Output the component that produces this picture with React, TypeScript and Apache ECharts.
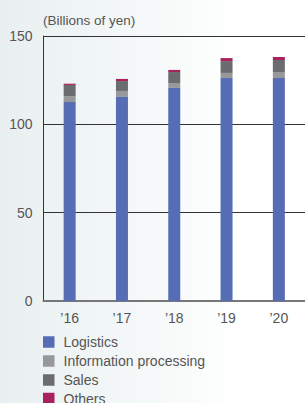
import React, { useEffect, useRef } from "react";
import * as echarts from "echarts";

const categories = ["\u201916", "\u201917", "\u201918", "\u201919", "\u201920"];
const logistics = [112.6, 115.5, 120.6, 126.2, 126.2];
const infoProcessing = [3.4, 3.4, 2.8, 2.9, 3.4];
const sales = [6.3, 5.6, 6.2, 6.7, 6.8];
const others = [0.7, 1.2, 1.2, 1.7, 1.7];
const seriesNames = ["Logistics", "Information processing", "Sales", "Others"];
const yTicks = { min: 0, max: 150, interval: 50 };

const FONT = "Liberation Sans, Arial, sans-serif";

export default function App() {
  const ref = useRef<HTMLDivElement>(null);
  useEffect(() => {
    document.body.style.margin = "0";
    const chart = echarts.init(ref.current!, undefined, { renderer: "svg" });
    const mk = (name: string, data: number[], color: string) => ({
      name,
      type: "bar",
      stack: "total",
      data,
      barWidth: 12,
      itemStyle: { color },
    });
    const legendTops = [335, 354, 373, 391.5];
    chart.setOption({
      animation: false,
      textStyle: { fontFamily: FONT },
      graphic: [
        {
          type: "text",
          left: 43,
          top: 13,
          style: { text: "(Billions of yen)", fontSize: 13.5, fill: "#555", fontFamily: FONT },
        },
      ],
      legend: seriesNames.map((n, i) => ({
        orient: "vertical",
        left: 43,
        top: legendTops[i],
        padding: 0,
        itemWidth: 11.5,
        itemHeight: 11.5,
        icon: "rect",
        textStyle: { fontSize: 14, color: "#555", fontFamily: FONT, padding: [0, 0, 0, 4] },
        data: [n],
      })),
      grid: { left: 43.5, top: 36, bottom: 102, width: 265, containLabel: false },
      xAxis: {
        type: "category",
        data: categories,
        axisLine: { lineStyle: { color: "#777", width: 2 } },
        axisTick: { show: false },
        axisLabel: { color: "#555", fontSize: 14, margin: 10, fontFamily: FONT },
      },
      yAxis: {
        type: "value",
        min: yTicks.min,
        max: yTicks.max,
        interval: yTicks.interval,
        axisLine: { show: true, lineStyle: { color: "#333", width: 1 } },
        axisTick: { show: false },
        splitLine: { lineStyle: { color: "#333", width: 1 } },
        axisLabel: { color: "#555", fontSize: 14, margin: 11, fontFamily: FONT },
      },
      series: [
        mk(seriesNames[0], logistics, "#566cb4"),
        mk(seriesNames[1], infoProcessing, "#97989a"),
        mk(seriesNames[2], sales, "#6b6c6f"),
        mk(seriesNames[3], others, "#a8235e"),
      ],
    });
    return () => chart.dispose();
  }, []);
  return (
    <div
      style={{
        position: "absolute",
        left: 0,
        top: 0,
        width: 305,
        height: 403,
        background: "linear-gradient(90deg, #e9eff0 0%, #f3f7f7 40%, #ffffff 80%)",
      }}
    >
      <div ref={ref} style={{ width: 305, height: 403 }} />
    </div>
  );
}
